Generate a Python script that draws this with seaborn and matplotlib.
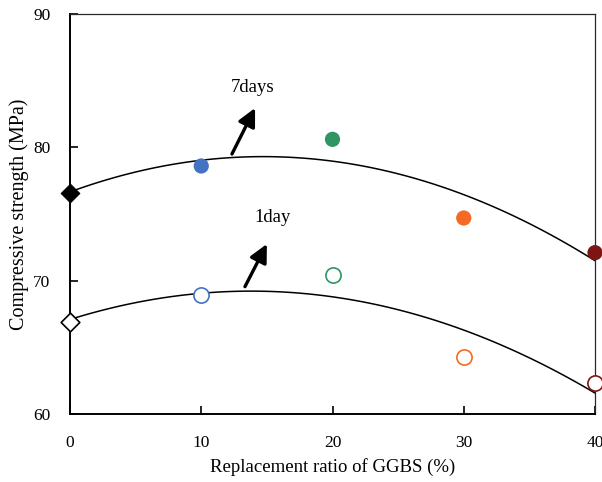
import numpy as np
import pandas as pd
import matplotlib
matplotlib.use("Agg")
import matplotlib.pyplot as plt
import seaborn as sns

ggbs = [0, 10, 20, 30, 40]
strength_7d = [76.6, 78.6, 80.6, 74.7, 72.1]
strength_1d = [66.9, 68.9, 70.4, 64.3, 62.3]
point_colors = ["#000000", "#4472C4", "#2E9563", "#F46A25", "#7D1515"]
x_ticks = [0, 10, 20, 30, 40]
y_ticks = [60, 70, 80, 90]

sns.set_theme(style="white")
plt.rcParams["font.family"] = ["Liberation Serif", "DejaVu Serif"]
plt.rcParams["text.color"] = "black"
plt.rcParams["axes.labelcolor"] = "black"
plt.rcParams["xtick.color"] = "black"
plt.rcParams["ytick.color"] = "black"

fig = plt.figure(figsize=(6.02, 4.82), dpi=100)
ax = fig.add_axes([70 / 602, 1 - 414 / 482, 525 / 602, 400 / 482])

df7 = pd.DataFrame({"x": ggbs, "y": strength_7d, "c": [str(v) for v in ggbs]})
df1 = pd.DataFrame({"x": ggbs, "y": strength_1d, "c": [str(v) for v in ggbs]})

# quadratic trend lines
for df in (df7, df1):
    sns.regplot(data=df, x="x", y="y", order=2, ci=None, scatter=False,
                line_kws=dict(color="black", lw=1.1, zorder=3), ax=ax, truncate=True)

pal = {str(v): c for v, c in zip(ggbs, point_colors)}

# 7 days: filled markers (diamond for control)
d7c = df7[df7.x > 0]
sns.scatterplot(data=d7c, x="x", y="y", hue="c", palette=pal, s=120,
                edgecolor="none", legend=False, ax=ax, zorder=5, clip_on=False)
sns.scatterplot(data=df7[df7.x == 0], x="x", y="y", marker="D", color="black",
                s=90, edgecolor="black", legend=False, ax=ax, zorder=5, clip_on=False)

# 1 day: open markers
d1c = df1[df1.x > 0]
for _, r in d1c.iterrows():
    ax.scatter(r.x, r.y, s=120, facecolor="white", edgecolor=pal[r.c],
               linewidth=1.2, zorder=5, clip_on=False)
ax.scatter(df1.x[df1.x == 0], df1.y[df1.x == 0], marker="D", s=90,
           facecolor="white", edgecolor="black", linewidth=1.2, zorder=5, clip_on=False)

# annotations
arrow = dict(arrowstyle="-|>,head_length=0.9,head_width=0.45", color="black", lw=2.4,
             shrinkA=0, shrinkB=0)
ax.annotate("", xy=(14.1, 82.95), xytext=(12.34, 79.5), arrowprops=arrow)
ax.annotate("", xy=(15.0, 72.75), xytext=(13.33, 69.55), arrowprops=arrow)
ax.text(13.94, 84.5, "7days", ha="center", va="center", fontsize=13.5, color="black")
ax.text(15.47, 74.7, "1day", ha="center", va="center", fontsize=13.5, color="black")

ax.set_xlim(0, 40)
ax.set_ylim(60, 90)
ax.set_xticks(x_ticks)
ax.set_yticks(y_ticks)
ax.tick_params(axis="both", direction="in", length=6, width=1.2, labelsize=12.5,
               colors="black", bottom=True, left=True, top=False, right=False)
ax.tick_params(axis="x", pad=15)
ax.tick_params(axis="y", pad=14)
ax.set_xlabel("Replacement ratio of GGBS (%)", fontsize=13.5, labelpad=5)
ax.set_ylabel("Compressive strength (MPa)", fontsize=14.5, labelpad=3)

for s in ("left", "bottom"):
    ax.spines[s].set_color("black")
    ax.spines[s].set_linewidth(1.4)
for s in ("top", "right"):
    ax.spines[s].set_color("#2a2a2a")
    ax.spines[s].set_linewidth(0.9)

fig.savefig("out.png", dpi=100)
